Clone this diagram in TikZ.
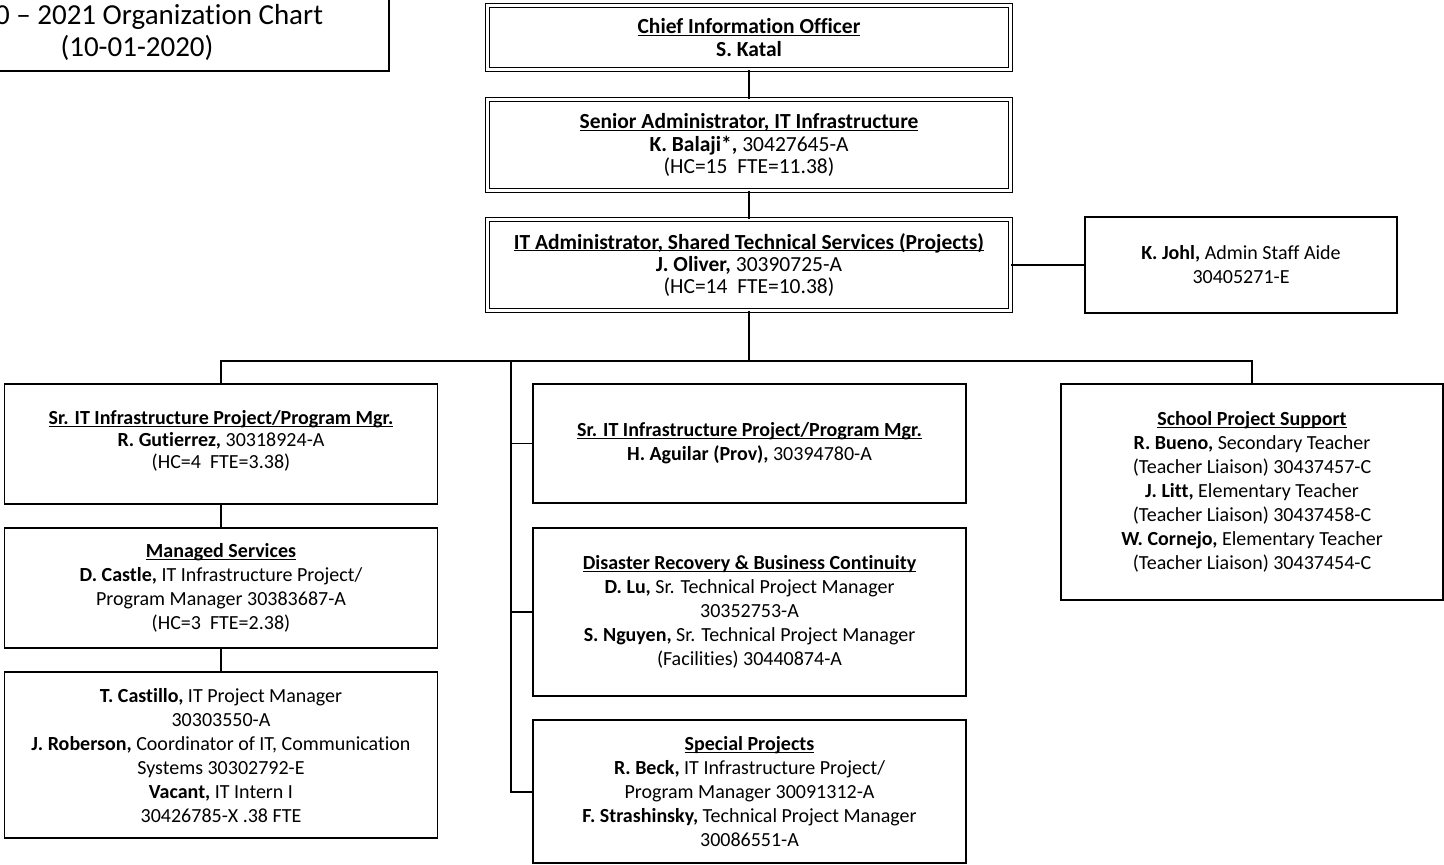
\documentclass[tikz,border=0pt]{standalone}
\usepackage{fontspec}
\setmainfont[Ligatures={NoCommon,NoContextual,NoRare}]{Carlito}
\newcommand\ulx[1]{\setbox0=\hbox{#1}\rlap{\rule[-1.2pt]{\wd0}{0.55pt}}\box0}
\tikzset{
  box/.style={draw, line width=0.75pt, align=center, inner sep=0pt,
    font=\fontsize{10}{12}\selectfont},
  dbox/.style={box, double, double distance=1.35pt, line width=0.65pt,
    font=\fontsize{10.75}{11.2}\selectfont},
  txt/.style={align=center, inner sep=0pt, font=\fontsize{10}{12}\selectfont},
  conn/.style={line width=0.65pt},
  trunk/.style={line width=1pt}
}
\begin{document}
\begin{tikzpicture}[x=0.5pt,y=-0.5pt]
\useasboundingbox (0,0) rectangle (1444,865);
\clip (0,0) rectangle (1444,865);
% title
\node[box, minimum width=252pt, minimum height=39pt,
  font=\fontsize{14.5}{16}\selectfont] (title) at (137,32)
  {2020 -- 2021 Organization Chart\\(10-01-2020)};
% top chain
\node[dbox, minimum width=261.3pt, minimum height=31.8pt] (chief) at (749,37.5)
  {\textbf{\ulx{Chief Information Officer}}\\\textbf{S. Katal}};
\node[dbox, minimum width=261.3pt, minimum height=45.3pt] (senior) at (749,145)
  {\textbf{\ulx{Senior Administrator, IT Infrastructure}}\\
   \textbf{K. Balaji*,} 30427645-A\\(HC=15\ \ FTE=11.38)};
\node[dbox, minimum width=261.3pt, minimum height=45.3pt] (itadm) at (749,265)
  {\textbf{\ulx{IT Administrator, Shared Technical Services (Projects)}}\\
   \textbf{J. Oliver,} 30390725-A\\(HC=14\ \ FTE=10.38)};
\node[box, minimum width=156pt, minimum height=48pt] (johl) at (1241,265)
  {\textbf{K. Johl,} Admin Staff Aide\\30405271-E};
% left column
\node[box, minimum width=216.5pt, minimum height=60pt] (gut) at (221,444) {};
\node[txt, font=\fontsize{10}{11}\selectfont] (guttxt) at (221,441)
  {\textbf{\ulx{Sr. IT Infrastructure Project/Program Mgr.}}\\
   \textbf{R. Gutierrez,} 30318924-A\\(HC=4\ \ FTE=3.38)};
\node[box, minimum width=216.5pt, minimum height=60pt] (managed) at (221,588)
  {\textbf{\ulx{Managed Services}}\\
   \textbf{D. Castle,} IT Infrastructure Project/\\
   Program Manager 30383687-A\\(HC=3\ \ FTE=2.38)};
\node[box, minimum width=216.5pt, minimum height=83pt] (castillo) at (221,755) {};
\node[txt] (castillotxt) at (221,756)
  {\textbf{T. Castillo,} IT Project Manager\\30303550-A\\
   \textbf{J. Roberson,} Coordinator of IT, Communication\\
   Systems 30302792-E\\
   \textbf{Vacant,} IT Intern I\\30426785-X .38 FTE};
% middle column
\node[box, minimum width=216.5pt, minimum height=59.5pt] (aguilar) at (749.5,443.5)
  {\textbf{\ulx{Sr. IT Infrastructure Project/Program Mgr.}}\\
   \textbf{H. Aguilar (Prov),} 30394780-A};
\node[box, minimum width=216.5pt, minimum height=84pt] (disaster) at (749.5,612)
  {\textbf{\ulx{Disaster Recovery \& Business Continuity}}\\
   \textbf{D. Lu,} Sr. Technical Project Manager\\30352753-A\\
   \textbf{S. Nguyen,} Sr. Technical Project Manager\\
   (Facilities) 30440874-A};
\node[box, minimum width=216.5pt, minimum height=71.5pt] (special) at (749.5,791.5)
  {\textbf{\ulx{Special Projects}}\\
   \textbf{R. Beck,} IT Infrastructure Project/\\
   Program Manager 30091312-A\\
   \textbf{F. Strashinsky,} Technical Project Manager\\30086551-A};
% right column
\node[box, minimum width=191pt, minimum height=108pt] (school) at (1252,492)
  {\textbf{\ulx{School Project Support}}\\
   \textbf{R. Bueno,} Secondary Teacher\\(Teacher Liaison) 30437457-C\\
   \textbf{J. Litt,} Elementary Teacher\\(Teacher Liaison) 30437458-C\\
   \textbf{W. Cornejo,} Elementary Teacher\\(Teacher Liaison) 30437454-C};
% connectors
\coordinate (hub) at (749,361);
\coordinate (bL) at (221,361);
\coordinate (bR) at (1252,361);
\coordinate (tk) at (511,361);
\draw[conn] (chief.south) -- (senior.north);
\draw[conn] (senior.south) -- (itadm.north);
\draw[conn] (itadm.east) -- (johl.west);
\draw[trunk] (itadm.south) -- (hub);
\draw[line width=0.85pt] (gut.north) -- (bL) -- (bR) -- (school.north);
\draw[trunk] (tk) |- (special.west);
\draw[conn] (tk |- aguilar.west) -- (aguilar.west);
\draw[conn] (tk |- disaster.west) -- (disaster.west);
\draw[conn] (gut.south) -- (managed.north);
\draw[conn] (managed.south) -- (castillo.north);
\end{tikzpicture}
\end{document}
